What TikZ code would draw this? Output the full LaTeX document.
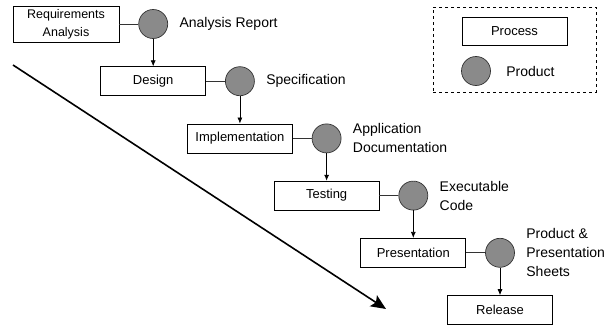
\documentclass[tikz,border=0pt]{standalone}
\usepackage{fontspec}
\setmainfont{Liberation Sans}
\usetikzlibrary{positioning}
\usetikzlibrary{arrows.meta}
\definecolor{productgray}{RGB}{138,138,138}

\begin{document}
\begin{tikzpicture}[
		x=1pt, y=-1pt,
		% Style definitions for the waterfall chain
		process/.style={draw, line width=0.7pt, minimum width=105pt, minimum height=29pt, inner sep=1pt, font=\fontsize{13}{19}\selectfont, align=center},
		product/.style={circle, draw=black!80, line width=0.7pt, fill=productgray, minimum size=29pt, inner sep=0pt},
		label/.style={font=\fontsize{14}{19}\selectfont, align=left, anchor=west},
		link/.style={line width=0.7pt, black!80},
		arrow/.style={-{Latex[length=6pt, width=5pt]}, line width=0.7pt},
		bigarrow/.style={-{Stealth[length=15pt, width=13pt, inset=3pt]}, line width=1.6pt},
		node distance=27.5pt and 19pt,
		]
		\useasboundingbox (0,0) rectangle (613,324);

		% === Process chain ===
		\node[process, minimum height=36pt, minimum width=106pt, font=\fontsize{12.5}{18}\selectfont] (req) at (66,24) {Requirements\\Analysis};
		\node[product, right=of req] (report) {};
		\node[process, below=of report] (design) {Design};
		\node[product, right=of design] (spec) {};
		\node[process, below=of spec] (impl) {Implementation};
		\node[product, right=of impl] (doc) {};
		\node[process, below=of doc] (test) {Testing};
		\node[product, right=of test] (code) {};
		\node[process, below=of code] (pres) {Presentation};
		\node[product, right=of pres] (sheets) {};
		\node[process, below=of sheets] (release) {Release};

		% === Product labels ===
		\node[label, right=8pt of report] {Analysis Report};
		\node[label, right=8pt of spec] {Specification};
		\node[label, right=8pt of doc] {Application\\Documentation};
		\node[label, right=8pt of code] {Executable\\Code};
		\node[label, right=8pt of sheets] {Product \&\\Presentation\\Sheets};

		% === Connectors ===
		\draw[link] (req) -- (report);
		\draw[arrow] (report) -- (design);
		\draw[link] (design) -- (spec);
		\draw[arrow] (spec) -- (impl);
		\draw[link] (impl) -- (doc);
		\draw[arrow] (doc) -- (test);
		\draw[link] (test) -- (code);
		\draw[arrow] (code) -- (pres);
		\draw[link] (pres) -- (sheets);
		\draw[arrow] (sheets) -- (release);

		% === Time arrow ===
		\coordinate (tstart) at (13,65);
		\coordinate (tend) at (386,309);
		\draw[bigarrow] (tstart) -- (tend);

		% === Legend ===
		\node[draw, dashed, line width=0.7pt, minimum width=163pt, minimum height=85pt] (legend) at (514.5,49.5) {};
		\node[process, minimum height=28pt] (legproc) at (514.5,31) {Process};
		\node[product] (legprod) at (476,71) {};
		\node[label, right=12pt of legprod] {Product};

	\end{tikzpicture}
\end{document}
